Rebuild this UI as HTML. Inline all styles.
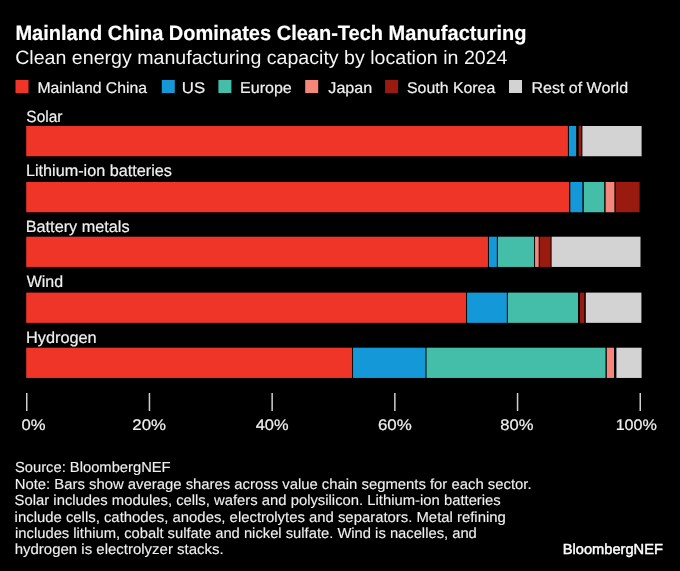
<!DOCTYPE html>
<html><head><meta charset="utf-8"><title>Mainland China Dominates Clean-Tech Manufacturing</title>
<style>html,body{margin:0;padding:0;background:#000;width:680px;height:571px;overflow:hidden}text{font-family:"Liberation Sans", sans-serif;text-rendering:geometricPrecision} .c{display:block;will-change:transform}</style>
</head><body><svg width="680" height="571" viewBox="0 0 680 571" class="c"><rect width="680" height="571" fill="#000"/><rect x="15.5" y="80" width="13" height="13" fill="#ee3528"/><rect x="161.8" y="80" width="13" height="13" fill="#1598d8"/><rect x="218.4" y="80" width="13" height="13" fill="#45bea9"/><rect x="305.2" y="80" width="13" height="13" fill="#f4877a"/><rect x="385.1" y="80" width="13" height="13" fill="#991b10"/><rect x="509" y="80" width="13" height="13" fill="#d3d3d3"/><rect x="26.20" y="126" width="541.70" height="30.25" fill="#ee3528"/><rect x="568.90" y="126" width="7.20" height="30.25" fill="#1598d8"/><rect x="578.70" y="126" width="2.70" height="30.25" fill="#991b10"/><rect x="582.40" y="126" width="59.20" height="30.25" fill="#d3d3d3"/><rect x="26.20" y="182" width="542.90" height="30.25" fill="#ee3528"/><rect x="570.30" y="182" width="12.10" height="30.25" fill="#1598d8"/><rect x="583.80" y="182" width="20.40" height="30.25" fill="#45bea9"/><rect x="605.60" y="182" width="8.80" height="30.25" fill="#f4877a"/><rect x="615.60" y="182" width="24.00" height="30.25" fill="#991b10"/><rect x="26.20" y="236.7" width="461.75" height="30.25" fill="#ee3528"/><rect x="488.95" y="236.7" width="7.90" height="30.25" fill="#1598d8"/><rect x="497.85" y="236.7" width="36.20" height="30.25" fill="#45bea9"/><rect x="535.05" y="236.7" width="3.65" height="30.25" fill="#f4877a"/><rect x="539.70" y="236.7" width="10.90" height="30.25" fill="#991b10"/><rect x="551.60" y="236.7" width="88.90" height="30.25" fill="#d3d3d3"/><rect x="26.20" y="292.6" width="439.85" height="30.25" fill="#ee3528"/><rect x="467.05" y="292.6" width="39.80" height="30.25" fill="#1598d8"/><rect x="507.85" y="292.6" width="70.15" height="30.25" fill="#45bea9"/><rect x="580.00" y="292.6" width="4.30" height="30.25" fill="#991b10"/><rect x="585.80" y="292.6" width="55.60" height="30.25" fill="#d3d3d3"/><rect x="26.20" y="347.7" width="325.85" height="30.25" fill="#ee3528"/><rect x="353.05" y="347.7" width="72.45" height="30.25" fill="#1598d8"/><rect x="426.50" y="347.7" width="179.00" height="30.25" fill="#45bea9"/><rect x="606.80" y="347.7" width="7.20" height="30.25" fill="#f4877a"/><rect x="616.40" y="347.7" width="25.20" height="30.25" fill="#d3d3d3"/><rect x="26.00" y="393" width="1.5" height="18" fill="#cfcfcf"/><rect x="148.70" y="393" width="1.5" height="18" fill="#cfcfcf"/><rect x="271.40" y="393" width="1.5" height="18" fill="#cfcfcf"/><rect x="394.10" y="393" width="1.5" height="18" fill="#cfcfcf"/><rect x="516.80" y="393" width="1.5" height="18" fill="#cfcfcf"/><rect x="639.50" y="393" width="1.5" height="18" fill="#cfcfcf"/><text x="15.44" y="40" font-size="20.8" font-weight="700" fill="#ffffff" stroke="#ffffff" stroke-width="0.2" textLength="511.00" lengthAdjust="spacingAndGlyphs">Mainland China Dominates Clean-Tech Manufacturing</text><text x="15.21" y="64" font-size="19.2" font-weight="400" fill="#f5f5f5" stroke="#f5f5f5" stroke-width="0.0" textLength="492.27" lengthAdjust="spacingAndGlyphs">Clean energy manufacturing capacity by location in 2024</text><text x="37.47" y="93" font-size="15.5" font-weight="400" fill="#f0f0f0" stroke="#f0f0f0" stroke-width="0.2" textLength="109.51" lengthAdjust="spacingAndGlyphs">Mainland China</text><text x="181.88" y="93" font-size="15.5" font-weight="400" fill="#f0f0f0" stroke="#f0f0f0" stroke-width="0.2" textLength="23.33" lengthAdjust="spacingAndGlyphs">US</text><text x="240.06" y="93" font-size="15.5" font-weight="400" fill="#f0f0f0" stroke="#f0f0f0" stroke-width="0.2" textLength="51.71" lengthAdjust="spacingAndGlyphs">Europe</text><text x="328.36" y="93" font-size="15.5" font-weight="400" fill="#f0f0f0" stroke="#f0f0f0" stroke-width="0.2" textLength="43.88" lengthAdjust="spacingAndGlyphs">Japan</text><text x="407.06" y="93" font-size="15.5" font-weight="400" fill="#f0f0f0" stroke="#f0f0f0" stroke-width="0.2" textLength="88.18" lengthAdjust="spacingAndGlyphs">South Korea</text><text x="531.45" y="93" font-size="15.5" font-weight="400" fill="#f0f0f0" stroke="#f0f0f0" stroke-width="0.2" textLength="96.62" lengthAdjust="spacingAndGlyphs">Rest of World</text><text x="26.35" y="122" font-size="16.2" font-weight="400" fill="#f0f0f0" stroke="#f0f0f0" stroke-width="0.2" textLength="36.05" lengthAdjust="spacingAndGlyphs">Solar</text><text x="25.94" y="176" font-size="16.2" font-weight="400" fill="#f0f0f0" stroke="#f0f0f0" stroke-width="0.2" textLength="146.03" lengthAdjust="spacingAndGlyphs">Lithium-ion batteries</text><text x="25.73" y="232" font-size="16.2" font-weight="400" fill="#f0f0f0" stroke="#f0f0f0" stroke-width="0.2" textLength="103.90" lengthAdjust="spacingAndGlyphs">Battery metals</text><text x="26.67" y="287" font-size="16.2" font-weight="400" fill="#f0f0f0" stroke="#f0f0f0" stroke-width="0.2" textLength="36.39" lengthAdjust="spacingAndGlyphs">Wind</text><text x="25.95" y="343" font-size="16.2" font-weight="400" fill="#f0f0f0" stroke="#f0f0f0" stroke-width="0.2" textLength="70.77" lengthAdjust="spacingAndGlyphs">Hydrogen</text><text x="21.40" y="430" font-size="15.3" font-weight="400" fill="#f0f0f0" stroke="#f0f0f0" stroke-width="0.2" textLength="24.03" lengthAdjust="spacingAndGlyphs">0%</text><text x="132.34" y="430" font-size="15.3" font-weight="400" fill="#f0f0f0" stroke="#f0f0f0" stroke-width="0.2" textLength="33.69" lengthAdjust="spacingAndGlyphs">20%</text><text x="255.71" y="430" font-size="15.3" font-weight="400" fill="#f0f0f0" stroke="#f0f0f0" stroke-width="0.2" textLength="32.84" lengthAdjust="spacingAndGlyphs">40%</text><text x="377.93" y="430" font-size="15.3" font-weight="400" fill="#f0f0f0" stroke="#f0f0f0" stroke-width="0.2" textLength="33.81" lengthAdjust="spacingAndGlyphs">60%</text><text x="500.31" y="430" font-size="15.3" font-weight="400" fill="#f0f0f0" stroke="#f0f0f0" stroke-width="0.2" textLength="33.19" lengthAdjust="spacingAndGlyphs">80%</text><text x="615.65" y="430" font-size="15.3" font-weight="400" fill="#f0f0f0" stroke="#f0f0f0" stroke-width="0.2" textLength="41.27" lengthAdjust="spacingAndGlyphs">100%</text><text x="14.99" y="472" font-size="14.6" font-weight="400" fill="#f0f0f0" stroke="#f0f0f0" stroke-width="0.12" textLength="155.64" lengthAdjust="spacingAndGlyphs">Source: BloombergNEF</text><text x="14.76" y="489" font-size="14.6" font-weight="400" fill="#f0f0f0" stroke="#f0f0f0" stroke-width="0.12" textLength="516.78" lengthAdjust="spacingAndGlyphs">Note: Bars show average shares across value chain segments for each sector.</text><text x="14.64" y="505" font-size="14.6" font-weight="400" fill="#f0f0f0" stroke="#f0f0f0" stroke-width="0.12" textLength="486.15" lengthAdjust="spacingAndGlyphs">Solar includes modules, cells, wafers and polysilicon. Lithium-ion batteries</text><text x="14.64" y="522" font-size="14.6" font-weight="400" fill="#f0f0f0" stroke="#f0f0f0" stroke-width="0.12" textLength="491.16" lengthAdjust="spacingAndGlyphs">include cells, cathodes, anodes, electrolytes and separators. Metal refining</text><text x="15.09" y="538" font-size="14.6" font-weight="400" fill="#f0f0f0" stroke="#f0f0f0" stroke-width="0.12" textLength="461.75" lengthAdjust="spacingAndGlyphs">includes lithium, cobalt sulfate and nickel sulfate. Wind is nacelles, and</text><text x="14.71" y="554" font-size="14.6" font-weight="400" fill="#f0f0f0" stroke="#f0f0f0" stroke-width="0.12" textLength="208.97" lengthAdjust="spacingAndGlyphs">hydrogen is electrolyzer stacks.</text><text x="562.81" y="554" font-size="14.5" font-weight="400" fill="#ffffff" stroke="#ffffff" stroke-width="0.45" textLength="100.04" lengthAdjust="spacingAndGlyphs">BloombergNEF</text></svg></body></html>
